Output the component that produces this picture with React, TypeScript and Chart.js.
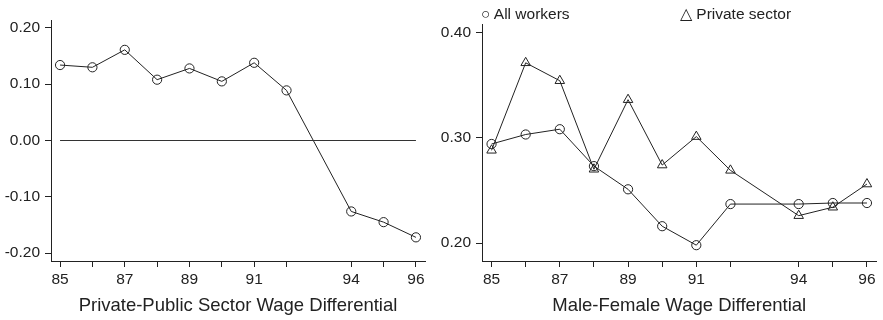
import React, { useEffect, useRef } from "react";
import { Chart, registerables } from "chart.js";

Chart.register(...registerables);

// ---- data ----
const years = [85, 86, 87, 88, 89, 90, 91, 92, 94, 95, 96];
const labeledYears = [85, 87, 89, 91, 94, 96];
const privatePublic = [0.134, 0.130, 0.161, 0.108, 0.128, 0.105, 0.138, 0.089, -0.126, -0.145, -0.172];
const allWorkers = [0.294, 0.303, 0.308, 0.273, 0.251, 0.216, 0.198, 0.237, 0.237, 0.238, 0.238];
const privateSector = [0.288, 0.371, 0.354, 0.270, 0.336, 0.274, 0.301, 0.269, 0.226, 0.234, 0.256];
const leftYTicks = [-0.2, -0.1, 0, 0.1, 0.2];
const rightYTicks = [0.2, 0.3, 0.4];
const leftTitle = "Private-Public Sector Wage Differential";
const rightTitle = "Male-Female Wage Differential";
const legendAll = "○ All workers";
const legendPrivate = "△ Private sector";

const INK = "#222";
const FONT = "'Liberation Sans', Arial, sans-serif";

function pts(vals: number[]) {
  return years.map((x, i) => ({ x, y: vals[i] }));
}

function makeOptions(opts: {
  yMin: number; yMax: number; yTicks: number[]; yWidth: number;
  padTop: number; padRight: number; title: string;
}) {
  return {
    animation: false as const,
    responsive: false,
    devicePixelRatio: 1,
    layout: { padding: { top: opts.padTop, right: opts.padRight, left: 0, bottom: 0 } },
    plugins: { legend: { display: false }, tooltip: { enabled: false } },
    scales: {
      x: {
        type: "linear" as const,
        min: 84.72,
        max: 96.28,
        afterBuildTicks: (s: any) => { s.ticks = years.map((v) => ({ value: v })); },
        afterFit: (s: any) => { s.height = 59; },
        ticks: {
          autoSkip: false,
          maxRotation: 0,
          padding: 3,
          color: INK,
          font: { family: FONT, size: 15.5 },
          callback: (v: any) => (labeledYears.includes(Number(v)) ? String(v) : ""),
        },
        grid: { display: true, drawOnChartArea: false, drawTicks: true, tickLength: 6, color: INK },
        border: { display: true, color: INK, width: 1 },
        title: {
          display: true,
          text: opts.title,
          color: INK,
          font: { family: FONT, size: 18.5 },
          padding: { top: 0, bottom: 2.5 },
        },
      },
      y: {
        type: "linear" as const,
        min: opts.yMin,
        max: opts.yMax,
        afterBuildTicks: (s: any) => { s.ticks = opts.yTicks.map((v) => ({ value: v })); },
        afterFit: (s: any) => { s.width = opts.yWidth; },
        ticks: {
          padding: 5,
          color: INK,
          font: { family: FONT, size: 15.5 },
          callback: (v: any) => Number(v).toFixed(2),
        },
        grid: { display: true, drawOnChartArea: false, drawTicks: true, tickLength: 6, color: INK },
        border: { display: true, color: INK, width: 1 },
      },
    },
  };
}

function lineDs(vals: number[], style: string, radius: number) {
  return {
    data: pts(vals),
    borderColor: INK,
    borderWidth: 1,
    pointStyle: style,
    pointRadius: radius,
    pointBorderColor: INK,
    pointBorderWidth: 1,
    pointBackgroundColor: "rgba(0,0,0,0)",
    tension: 0,
  };
}

export default function App() {
  const leftRef = useRef<HTMLCanvasElement>(null);
  const rightRef = useRef<HTMLCanvasElement>(null);

  useEffect(() => {
    const left = new Chart(leftRef.current!, {
      type: "line",
      data: {
        datasets: [
          {
            data: [
              { x: years[0], y: 0 },
              { x: years[years.length - 1], y: 0 },
            ],
            borderColor: "#333",
            borderWidth: 1,
            pointRadius: 0,
          },
          lineDs(privatePublic, "circle", 4.6),
        ],
      },
      options: makeOptions({
        yMin: -0.214, yMax: 0.214, yTicks: leftYTicks, yWidth: 51,
        padTop: 20, padRight: 15, title: leftTitle,
      }) as any,
    });
    const right = new Chart(rightRef.current!, {
      type: "line",
      data: {
        datasets: [
          lineDs(allWorkers, "circle", 4.6),
          lineDs(privateSector, "triangle", 5.5),
        ],
      },
      options: makeOptions({
        yMin: 0.183, yMax: 0.4078, yTicks: rightYTicks, yWidth: 42,
        padTop: 24, padRight: 1, title: rightTitle,
      }) as any,
    });
    return () => {
      left.destroy();
      right.destroy();
    };
  }, []);

  const legendStyle: React.CSSProperties = {
    position: "absolute",
    top: 5,
    fontFamily: FONT,
    fontSize: 15.5,
    lineHeight: "17px",
    color: INK,
    whiteSpace: "nowrap",
  };

  return (
    <div
      style={{
        position: "fixed",
        left: 0,
        top: 0,
        width: 883,
        height: 320,
        background: "#fff",
        overflow: "hidden",
      }}
    >
      <div style={{ position: "absolute", left: 0, top: 0, width: 440, height: 320 }}>
        <canvas ref={leftRef} width={440} height={320} style={{ display: "block" }} />
      </div>
      <div style={{ position: "absolute", left: 440, top: 0, width: 443, height: 320 }}>
        <canvas ref={rightRef} width={443} height={320} style={{ display: "block" }} />
      </div>
      <span style={{ ...legendStyle, left: 481 }}>{legendAll}</span>
      <span style={{ ...legendStyle, left: 680 }}>{legendPrivate}</span>
    </div>
  );
}
